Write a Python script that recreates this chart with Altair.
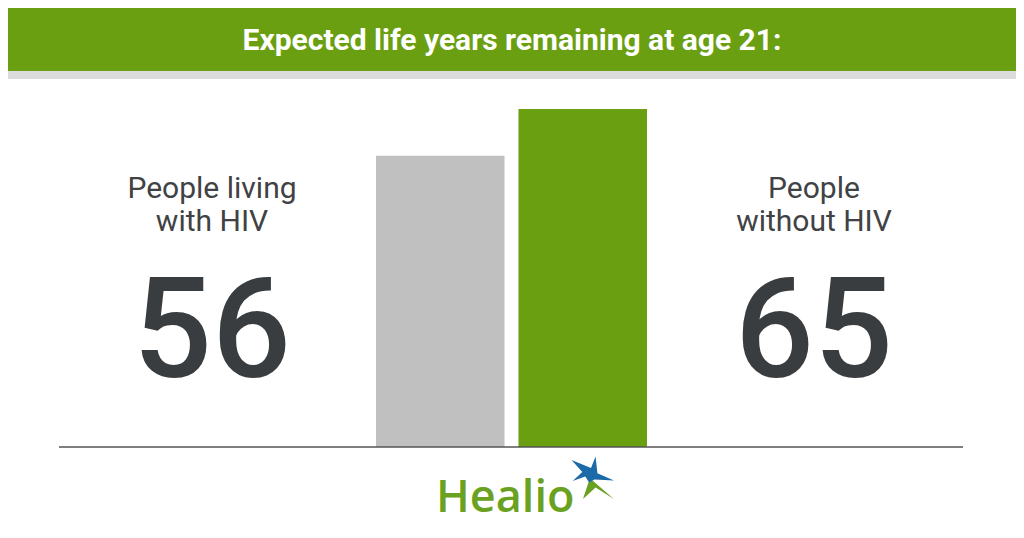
import altair as alt
import pandas as pd

title_text = "Expected life years remaining at age 21:"
categories = ["People living with HIV", "People without HIV"]
label_line1 = ["People living", "People"]
label_line2 = ["with HIV", "without HIV"]
years = [56, 65]
bar_colors = ["#c0c0c0", "#6b9f12"]
brand = "Healio"

df = pd.DataFrame({"group": categories, "years": years,
                   "line1": label_line1, "line2": label_line2})
one = pd.DataFrame({"k": [0]})

W, H = 1008, 522
GREEN = "#6b9f12"
DARK = "#3a3d40"
LABEL = "#404244"

banner = alt.Chart(one).mark_rect(color=GREEN).encode(
    x=alt.value(0), x2=alt.value(W), y=alt.value(0), y2=alt.value(63))
strip = alt.Chart(one).mark_rect(color="#dcdcdc").encode(
    x=alt.value(0), x2=alt.value(W), y=alt.value(63), y2=alt.value(71))
title = alt.Chart(one).mark_text(
    text=title_text, font="Roboto", fontSize=30, fontWeight="bold",
    color="white", align="center", baseline="alphabetic").encode(
    x=alt.value(504), y=alt.value(42))

yscale = alt.Scale(domain=[0, 65], range=[439, 101])
bars = alt.Chart(df).mark_bar().encode(
    x=alt.X("group:N", sort=categories, axis=None,
            scale=alt.Scale(domain=categories, range=[368, 639], paddingInner=0.098, paddingOuter=0)),
    y=alt.Y("years:Q", scale=yscale, axis=None),
    color=alt.Color("group:N", scale=alt.Scale(domain=categories, range=bar_colors), legend=None),
)
baseline = alt.Chart(one).mark_rule(color="#555555", strokeWidth=1.5).encode(
    x=alt.value(51), x2=alt.value(955), y=alt.datum(0))

def side(i, xpos):
    base = alt.Chart(df).transform_filter(alt.datum.group == categories[i])
    l1 = base.mark_text(font="Roboto", fontSize=30, color=LABEL, align="center",
                        baseline="alphabetic").encode(
        x=alt.value(xpos), y=alt.value(190), text="line1:N")
    l2 = base.mark_text(font="Roboto", fontSize=30, color=LABEL, align="center",
                        baseline="alphabetic").encode(
        x=alt.value(xpos), y=alt.value(223), text="line2:N")
    num = base.mark_text(font="Roboto", fontSize=139, fontWeight=500, color=DARK,
                         align="center", baseline="alphabetic").encode(
        x=alt.value(xpos), y=alt.value(369), text="years:Q")
    return [l1, l2, num]

left = side(0, 204)
right = side(1, 806)

logo_text = alt.Chart(one).mark_text(
    text=brand, font="Open Sans", fontSize=45, fontWeight=600, color="#6aa121",
    align="left", baseline="alphabetic").encode(x=alt.value(428), y=alt.value(504))

star_path = ("M-0.85,-0.7 L0.0,-0.35 L0.2,-0.85 L0.28,-0.12 L1,0.2 L0.15,0.15 "
             "L-0.08,0.28 L-0.25,0.02 L-0.8,0.22 L-0.38,-0.18 Z")
tail_path = "M-0.05,0.1 L1,1 L0.2,0.5 L-0.35,1 Z"
tail = alt.Chart(one).mark_point(shape=tail_path, filled=True, color="#6aa121",
                                 opacity=1, size=2100, strokeWidth=0).encode(
    x=alt.value(583), y=alt.value(468))
star = alt.Chart(one).mark_point(shape=star_path, filled=True, color="#1d6aa8",
                                 opacity=1, size=2100, strokeWidth=0).encode(
    x=alt.value(583), y=alt.value(468))

chart = alt.layer(banner, strip, title, bars, baseline, *left, *right,
                  logo_text, tail, star).properties(
    width=W, height=H, padding=0, autosize=alt.AutoSizeParams(type="none"),
    background="white"
).configure_view(stroke=None)

chart.save("out.html", embed_options={"renderer": "svg", "actions": False})
